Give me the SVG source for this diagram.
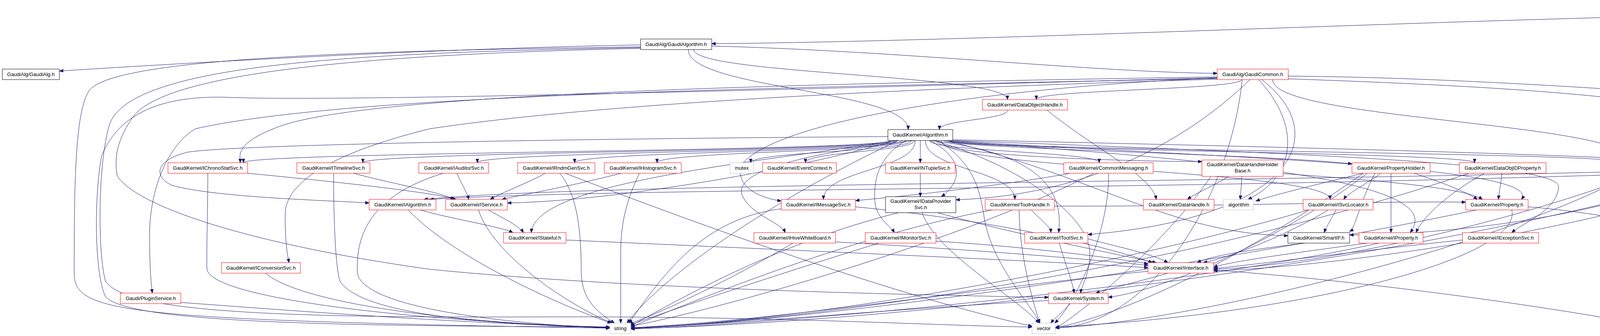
<svg xmlns="http://www.w3.org/2000/svg" width="5521" height="861" viewBox="0 0 5521 861">
<style>
.bg{fill:#fff}
.node rect{fill:#fff;stroke-width:1}
.r rect{stroke:#ff0000}
.k rect{stroke:#000}
.g rect{stroke:#bfbfbf}
.root rect{fill:#bfbfbf;stroke:#000}
.node text{font-family:"Liberation Sans",Arial,sans-serif;font-size:13px;fill:#000;text-anchor:middle}
#edges path{fill:none;stroke:#191970;stroke-width:1;marker-end:url(#ah)}
</style>
<defs>
<marker id="ah" markerUnits="userSpaceOnUse" markerWidth="11" markerHeight="8" refX="10" refY="4" orient="auto" viewBox="0 0 11 8">
<path d="M0,0 L10,4 L0,8 z" fill="#191970" stroke="#191970"/>
</marker>
</defs>
<rect class="bg" x="0" y="0" width="5521" height="861"/>
<g id="edges">
<path d="M4703,33 C3900,40 2600,105 1822,112"/>
<path d="M4794,49 C4794,152 4898,152 4898,255"/>
<path d="M4819,49 C4819,190 5371,190 5371,332"/>
<path d="M4717,49 C4717,491 3834,602 3455,602"/>
<path d="M1640,115 C1100,125 500,160 152,182"/>
<path d="M1822,118 C2300,130 2800,185 3116,188"/>
<path d="M1762,127 C1762,229 2325,230 2325,332"/>
<path d="M1776,127 C1776,191 2579,191 2579,255"/>
<path d="M1640,120 C900,130 300,150 230,230 C190,280 190,500 190,700 C190,800 300,820 1561,841"/>
<path d="M1640,122 C900,135 330,165 280,320 C250,420 250,650 270,720 C320,800 700,815 1400,812 C2000,810 2400,835 2642,838"/>
<path d="M1640,124 C900,140 420,190 340,300 C300,360 292,400 300,450 C340,520 600,620 1100,690 C1600,740 2300,755 2684,762"/>
<path d="M3178,204 C3178,230 2653,230 2653,255"/>
<path d="M3298,195 C3900,200 4500,262 4820,268"/>
<path d="M3298,202 C4400,240 4640,300 4636,511"/>
<path d="M3258,204 C3258,310 4184,311 4184,417"/>
<path d="M3222,204 C3330,320 3320,450 3195,511"/>
<path d="M3116,197 C2000,215 900,240 700,330 C600,370 615,400 615,417"/>
<path d="M3200,204 C3050,350 2800,500 2447,512"/>
<path d="M3116,200 C2600,220 2000,300 1900,420 C1880,470 1930,505 2000,515"/>
<path d="M3230,204 C3420,350 3300,560 2785,601"/>
<path d="M3116,199 C2000,230 900,260 600,250 C400,240 300,300 260,400 C241,500 241,700 270,760 C330,830 900,835 1561,838"/>
<path d="M3180,204 C3150,500 2950,835 2702,840"/>
<path d="M3116,201 C2000,225 900,240 500,330 C420,380 383,500 383,600 C383,680 386,720 390,751"/>
<path d="M3116,203 C2200,230 1500,270 1100,330 C900,380 730,450 730,550 C730,620 735,650 740,673"/>
<path d="M2580,282 C2580,307 2405,307 2405,332"/>
<path d="M2680,282 C2800,380 2950,450 2960,511"/>
<path d="M4898,282 C4895,300 4887,315 4884,332"/>
<path d="M4925,282 C4925,307 5010,307 5010,332"/>
<path d="M4953,282 C4953,307 5145,307 5145,332"/>
<path d="M5193,360 C5210,380 5235,400 5250,417"/>
<path d="M5002,360 C4900,400 4700,470 4650,511"/>
<path d="M5380,360 C5350,380 5310,400 5290,417"/>
<path d="M5397,360 C5370,450 5367,500 5367,600 C5367,700 5300,740 5000,780 C4700,815 4500,830 4396,834"/>
<path d="M2279,360 C2279,388 623,389 623,417"/>
<path d="M2281,360 C2281,388 929,389 929,417"/>
<path d="M2296,360 C2296,388 1222,389 1222,417"/>
<path d="M2309,360 C2309,388 1471,389 1471,417"/>
<path d="M2320,360 C2320,388 1682,389 1682,417"/>
<path d="M2333,360 C2333,388 1922,389 1922,417"/>
<path d="M2341,360 C2341,388 2062,389 2062,417"/>
<path d="M2356,360 C2356,380 2356,400 2356,417"/>
<path d="M2380,360 C2380,388 2814,389 2814,417"/>
<path d="M2397,360 C2397,400 2900,414 3077,414"/>
<path d="M2416,360 C2416,380 3250,395 3461,420"/>
<path d="M2428,360 C2428,385 3775,390 3775,417"/>
<path d="M2433,360 C2433,385 4165,390 4165,417"/>
<path d="M2435,358 C3000,370 4100,395 4360,418"/>
<path d="M2273,350 C1500,355 600,370 480,390 C400,410 390,450 440,475 C550,505 800,512 945,520"/>
<path d="M2290,360 C2100,420 1600,515 1299,520"/>
<path d="M2343,360 C2343,435 2108,436 2108,511"/>
<path d="M2380,360 C2460,400 2470,460 2410,504"/>
<path d="M2369,360 C2369,435 2598,436 2598,511"/>
<path d="M2410,360 C2410,435 3405,436 3405,511"/>
<path d="M2430,360 C3000,400 3960,420 3895,511"/>
<path d="M2300,360 C1900,420 1370,470 1360,596"/>
<path d="M2340,360 C2000,400 1880,450 1900,500 C1920,550 2000,570 2010,596"/>
<path d="M2320,360 C2250,400 2235,460 2240,520 C2245,560 2280,580 2290,596"/>
<path d="M2380,360 C2650,390 2725,480 2710,596"/>
<path d="M2420,360 C2800,450 3000,600 3297,604"/>
<path d="M2430,362 C3300,420 3700,480 3610,596"/>
<path d="M2435,360 C3400,395 4000,420 3990,480 C3985,540 3900,570 3870,596"/>
<path d="M2390,360 C2600,420 2790,550 2790,650 C2790,700 2770,730 2766,751"/>
<path d="M2300,360 C2000,500 1700,700 1605,828"/>
<path d="M2400,360 C2500,420 2510,500 2520,560 C2540,680 2640,780 2662,828"/>
<path d="M634,444 C800,460 1100,490 1167,511"/>
<path d="M532,444 C532,550 528,650 530,690 C540,760 1000,820 1561,839"/>
<path d="M905,444 C1000,470 1120,490 1163,511"/>
<path d="M854,444 C854,550 858,680 870,720 C920,800 1200,830 1561,840"/>
<path d="M1170,444 C1180,470 1195,490 1200,511"/>
<path d="M1135,444 C950,500 910,600 915,700 C930,790 1300,830 1561,841"/>
<path d="M1396,444 C1350,470 1280,495 1255,511"/>
<path d="M1433,444 C1480,500 1488,600 1488,700 C1490,770 1530,800 1573,828"/>
<path d="M1447,444 C1800,580 2300,760 2642,836"/>
<path d="M1590,444 C1450,480 1330,500 1285,511"/>
<path d="M1637,444 C1600,520 1589,580 1589,650 C1589,740 1589,800 1589,828"/>
<path d="M2356,444 C2356,470 2356,490 2356,504"/>
<path d="M2740,444 C2600,470 2350,500 2190,514"/>
<path d="M2800,444 C2500,600 1900,780 1615,836"/>
<path d="M2838,444 C2840,600 2750,780 2700,828"/>
<path d="M3145,452 C3110,475 3060,495 3040,511"/>
<path d="M3179,452 C3178,475 3176,495 3175,511"/>
<path d="M3285,445 C3500,460 3750,480 3795,511"/>
<path d="M3100,452 C3000,600 2800,780 2702,842"/>
<path d="M3490,444 C3380,470 3260,500 3215,515"/>
<path d="M3535,444 C3500,470 3450,495 3440,511"/>
<path d="M3561,444 C3561,500 3561,550 3561,596"/>
<path d="M3620,444 C3700,470 3760,495 3782,511"/>
<path d="M3520,444 C3480,520 3470,585 3455,593"/>
<path d="M3500,444 C3300,600 3000,740 2837,762"/>
<path d="M3490,444 C3200,650 2900,800 2702,840"/>
<path d="M3845,444 C3842,475 3837,495 3836,511"/>
<path d="M3800,444 C3700,500 3640,560 3625,596"/>
<path d="M3760,444 C3000,700 2000,830 1615,840"/>
<path d="M4140,440 C3000,470 1500,470 1085,511"/>
<path d="M4200,444 C3900,560 3400,680 3107,690"/>
<path d="M4180,444 C3800,650 3000,830 2702,840"/>
<path d="M4360,440 C3000,490 1600,480 1100,511"/>
<path d="M4490,452 C4550,480 4590,500 4610,511"/>
<path d="M4420,452 C4200,560 3500,680 3107,694"/>
<path d="M4380,452 C3500,700 2200,830 1615,842"/>
<path d="M1076,538 C1150,560 1280,580 1313,596"/>
<path d="M1045,538 C1150,650 1400,770 1565,828"/>
<path d="M1250,538 C1290,560 1330,580 1340,596"/>
<path d="M1225,538 C1260,650 1450,780 1567,828"/>
<path d="M2190,530 C2500,560 2800,620 2950,673"/>
<path d="M2000,535 C1800,560 1700,700 1610,828"/>
<path d="M2400,545 C2600,600 2850,650 2960,673"/>
<path d="M2300,545 C2000,620 1750,760 1615,835"/>
<path d="M2360,545 C2400,650 2600,760 2660,828"/>
<path d="M2640,538 C2660,560 2690,580 2690,596"/>
<path d="M2540,538 C2200,600 1800,760 1615,838"/>
<path d="M2609,538 C2610,650 2640,760 2662,828"/>
<path d="M2699,528 C3100,530 3500,515 3752,518"/>
<path d="M3420,538 C3410,560 3395,580 3390,596"/>
<path d="M3400,538 C3300,600 3150,660 3080,673"/>
<path d="M3350,538 C2800,700 2000,830 1615,840"/>
<path d="M3912,530 C4300,560 4800,720 4800,765 C4800,800 4600,830 4396,834"/>
<path d="M3780,538 C3000,700 2000,830 1615,841"/>
<path d="M3870,538 C3900,650 3400,800 2702,838"/>
<path d="M1449,615 C2000,640 2700,670 2939,686"/>
<path d="M2139,620 C2500,640 2800,665 2939,680"/>
<path d="M2030,623 C1900,700 1700,800 1610,830"/>
<path d="M2396,618 C2600,630 2850,660 2939,676"/>
<path d="M2250,623 C2000,700 1700,800 1613,833"/>
<path d="M2712,623 C2725,670 2745,720 2750,751"/>
<path d="M2785,612 C2850,630 2950,650 2990,673"/>
<path d="M3340,623 C3200,640 3100,655 3065,673"/>
<path d="M3500,623 C3300,650 3150,670 3107,685"/>
<path d="M3530,623 C3000,740 2000,830 1615,843"/>
<path d="M3744,615 C3500,640 3200,680 3107,688"/>
<path d="M680,700 C760,770 1100,825 1561,840"/>
<path d="M2990,700 C2920,720 2840,740 2805,751"/>
<path d="M3107,692 C3500,720 4000,790 4247,840"/>
<path d="M2939,695 C2500,740 2000,820 1615,840"/>
<path d="M463,775 C800,800 1200,830 1561,838"/>
<path d="M2740,778 C2720,800 2700,815 2690,828"/>
<path d="M2684,770 C2300,790 1900,830 1615,840"/>
</g>
<g id="n-root" class="node root"><rect x="4703" y="8" width="170" height="41"/><text x="4788" y="24">GaudiMP/src/component</text><text x="4788" y="40">/ReplayOutputStream.h</text></g>
<g id="n-GaudiAlgorithm" class="node k"><rect x="1640" y="100" width="182" height="27"/><text x="1731" y="118">GaudiAlg/GaudiAlgorithm.h</text></g>
<g id="n-GaudiAlg" class="node k"><rect x="6" y="177" width="146" height="27"/><text x="79" y="195">GaudiAlg/GaudiAlg.h</text></g>
<g id="n-GaudiCommon" class="node r"><rect x="3116" y="177" width="182" height="27"/><text x="3207" y="195">GaudiAlg/GaudiCommon.h</text></g>
<g id="n-DataObjectHandle" class="node r"><rect x="2515" y="255" width="218" height="27"/><text x="2624" y="273">GaudiKernel/DataObjectHandle.h</text></g>
<g id="n-HashMap" class="node k"><rect x="4820" y="255" width="168" height="27"/><text x="4904" y="273">GaudiKernel/HashMap.h</text></g>
<g id="n-Algorithm" class="node k"><rect x="2273" y="332" width="166" height="28"/><text x="2356" y="350">GaudiKernel/Algorithm.h</text></g>
<g id="n-unordered_map" class="node g"><rect x="4821" y="332" width="117" height="28"/><text x="4880" y="350">unordered_map</text></g>
<g id="n-Map" class="node r"><rect x="4961" y="332" width="136" height="28"/><text x="5029" y="350">GaudiKernel/Map.h</text></g>
<g id="n-Hash" class="node r"><rect x="5121" y="332" width="143" height="28"/><text x="5193" y="350">GaudiKernel/Hash.h</text></g>
<g id="n-ThreadLocalContext" class="node k"><rect x="5287" y="332" width="229" height="28"/><text x="5402" y="350">GaudiKernel/ThreadLocalContext.h</text></g>
<g id="n-IChronoStatSvc" class="node r"><rect x="430" y="417" width="204" height="27"/><text x="532" y="435">GaudiKernel/IChronoStatSvc.h</text></g>
<g id="n-ITimelineSvc" class="node r"><rect x="760" y="417" width="187" height="27"/><text x="854" y="435">GaudiKernel/ITimelineSvc.h</text></g>
<g id="n-IAuditorSvc" class="node r"><rect x="1072" y="417" width="179" height="27"/><text x="1162" y="435">GaudiKernel/IAuditorSvc.h</text></g>
<g id="n-IRndmGenSvc" class="node r"><rect x="1325" y="417" width="198" height="27"/><text x="1424" y="435">GaudiKernel/IRndmGenSvc.h</text></g>
<g id="n-IHistogramSvc" class="node r"><rect x="1547" y="417" width="197" height="27"/><text x="1646" y="435">GaudiKernel/IHistogramSvc.h</text></g>
<g id="n-mutex" class="node g"><rect x="1869" y="417" width="60" height="27"/><text x="1899" y="435">mutex</text></g>
<g id="n-EventContext" class="node r"><rect x="1952" y="417" width="189" height="27"/><text x="2047" y="435">GaudiKernel/EventContext.h</text></g>
<g id="n-INTupleSvc" class="node r"><rect x="2267" y="417" width="178" height="27"/><text x="2356" y="435">GaudiKernel/INTupleSvc.h</text></g>
<g id="n-CommonMessaging" class="node r"><rect x="2723" y="417" width="229" height="27"/><text x="2838" y="435">GaudiKernel/CommonMessaging.h</text></g>
<g id="n-DataHandleHolderBase" class="node r"><rect x="3077" y="410" width="208" height="42"/><text x="3181" y="426">GaudiKernel/DataHandleHolder</text><text x="3181" y="442">Base.h</text></g>
<g id="n-PropertyHolder" class="node r"><rect x="3461" y="417" width="200" height="27"/><text x="3561" y="435">GaudiKernel/PropertyHolder.h</text></g>
<g id="n-DataObjIDProperty" class="node r"><rect x="3736" y="417" width="222" height="27"/><text x="3847" y="435">GaudiKernel/DataObjIDProperty.h</text></g>
<g id="n-IAlgContextSvc" class="node k"><rect x="4134" y="417" width="201" height="27"/><text x="4235" y="435">GaudiKernel/IAlgContextSvc.h</text></g>
<g id="n-IAlgExecStateSvc" class="node r"><rect x="4360" y="410" width="182" height="42"/><text x="4451" y="426">GaudiKernel/IAlgExecState</text><text x="4451" y="442">Svc.h</text></g>
<g id="n-cstddef" class="node g"><rect x="5230" y="417" width="64" height="27"/><text x="5262" y="435">cstddef</text></g>
<g id="n-IAlgorithm" class="node r"><rect x="945" y="511" width="171" height="27"/><text x="1031" y="529">GaudiKernel/IAlgorithm.h</text></g>
<g id="n-IService" class="node r"><rect x="1141" y="511" width="158" height="27"/><text x="1220" y="529">GaudiKernel/IService.h</text></g>
<g id="n-IMessageSvc" class="node r"><rect x="2000" y="511" width="190" height="27"/><text x="2095" y="529">GaudiKernel/IMessageSvc.h</text></g>
<g id="n-IDataProviderSvc" class="node k"><rect x="2267" y="504" width="180" height="41"/><text x="2357" y="520">GaudiKernel/IDataProvider</text><text x="2357" y="536">Svc.h</text></g>
<g id="n-ToolHandle" class="node r"><rect x="2522" y="511" width="177" height="27"/><text x="2611" y="529">GaudiKernel/ToolHandle.h</text></g>
<g id="n-DataHandle" class="node r"><rect x="2927" y="511" width="181" height="27"/><text x="3018" y="529">GaudiKernel/DataHandle.h</text></g>
<g id="n-algorithm" class="node g"><rect x="3132" y="511" width="77" height="27"/><text x="3171" y="529">algorithm</text></g>
<g id="n-ISvcLocator" class="node r"><rect x="3336" y="511" width="179" height="27"/><text x="3426" y="529">GaudiKernel/ISvcLocator.h</text></g>
<g id="n-Property" class="node r"><rect x="3752" y="511" width="160" height="27"/><text x="3832" y="529">GaudiKernel/Property.h</text></g>
<g id="n-map" class="node g"><rect x="4607" y="511" width="48" height="27"/><text x="4631" y="529">map</text></g>
<g id="n-IStateful" class="node r"><rect x="1289" y="596" width="160" height="27"/><text x="1369" y="614">GaudiKernel/IStateful.h</text></g>
<g id="n-IHiveWhiteBoard" class="node r"><rect x="1930" y="596" width="209" height="27"/><text x="2035" y="614">GaudiKernel/IHiveWhiteBoard.h</text></g>
<g id="n-IMonitorSvc" class="node r"><rect x="2215" y="596" width="181" height="27"/><text x="2306" y="614">GaudiKernel/IMonitorSvc.h</text></g>
<g id="n-IToolSvc" class="node r"><rect x="2623" y="596" width="162" height="27"/><text x="2704" y="614">GaudiKernel/IToolSvc.h</text></g>
<g id="n-SmartIF" class="node k"><rect x="3297" y="596" width="158" height="27"/><text x="3376" y="614">GaudiKernel/SmartIF.h</text></g>
<g id="n-IProperty" class="node r"><rect x="3479" y="596" width="164" height="27"/><text x="3561" y="614">GaudiKernel/IProperty.h</text></g>
<g id="n-IExceptionSvc" class="node r"><rect x="3744" y="596" width="195" height="27"/><text x="3842" y="614">GaudiKernel/IExceptionSvc.h</text></g>
<g id="n-IConversionSvc" class="node r"><rect x="567" y="673" width="202" height="27"/><text x="668" y="691">GaudiKernel/IConversionSvc.h</text></g>
<g id="n-IInterface" class="node r"><rect x="2939" y="673" width="168" height="27"/><text x="3023" y="691">GaudiKernel/IInterface.h</text></g>
<g id="n-PluginService" class="node r"><rect x="308" y="751" width="155" height="27"/><text x="386" y="769">Gaudi/PluginService.h</text></g>
<g id="n-System" class="node r"><rect x="2684" y="751" width="153" height="27"/><text x="2761" y="769">GaudiKernel/System.h</text></g>
<g id="n-string" class="node g"><rect x="1561" y="828" width="54" height="27"/><text x="1588" y="846">string</text></g>
<g id="n-vector" class="node g"><rect x="2642" y="828" width="60" height="27"/><text x="2672" y="846">vector</text></g>
<g id="n-Kernel" class="node k"><rect x="4247" y="828" width="149" height="27"/><text x="4322" y="846">GaudiKernel/Kernel.h</text></g>
</svg>
